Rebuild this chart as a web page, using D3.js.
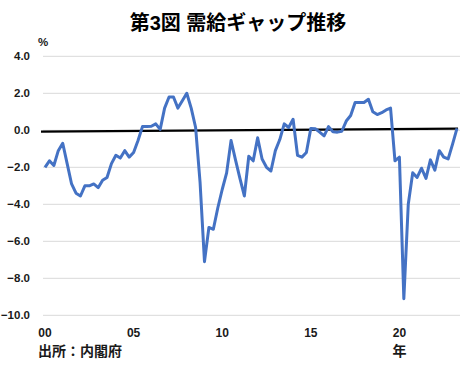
<!DOCTYPE html>
<html>
<head>
<meta charset="utf-8">
<script src="https://cdn.jsdelivr.net/npm/d3@7"></script>
<style>
  body { margin: 0; background: #fff; }
  text { font-family: "Liberation Sans", Arial, "Noto Sans CJK JP", sans-serif; }
</style>
</head>
<body>
<script>
// quarterly output gap, 2000Q1 .. 2023Q2 (% )
const startYear = 2000
const gap = [
  -2.0, -1.65, -1.9, -1.1,   -0.7, -1.8, -2.9, -3.4,
  -3.55, -3.0, -3.0, -2.9,   -3.1, -2.7, -2.55, -1.8,
  -1.35, -1.5, -1.1, -1.45,  -1.2, -0.55, 0.2, 0.2,
  0.22, 0.35, 0.05, 1.2,     1.8, 1.8, 1.2, 1.6,
  2.0, 1.2, 0.15, -2.8,      -7.1, -5.25, -5.35, -4.2,
  -3.2, -2.3, -0.55, -1.6,   -2.6, -3.55, -1.4, -1.65,
  -0.4, -1.55, -2.0, -2.2,   -1.1, -0.5, 0.35, 0.15,
  0.6, -1.35, -1.45, -1.2,   0.1, 0.08, -0.1, -0.3,
  0.2, -0.08, -0.1, -0.05,   0.5, 0.8, 1.5, 1.5,
  1.5, 1.68, 1.0, 0.85,      0.95, 1.1, 1.2, -1.65,
  -1.45, -9.1, -4.0, -2.3,   -2.55, -2.05, -2.6, -1.6,
  -2.15, -1.1, -1.45, -1.55, -0.75, 0.1
]
// the black reference line (start / end)
const refLine = [-0.07, 0.09]

const quarters = gap.map((d, i) => (startYear + Math.floor(i / 4)) + 'Q' + (i % 4 + 1))
const xTickQuarters = ['2000Q1', '2005Q1', '2010Q1', '2015Q1', '2020Q1']
const xTickLabels = ['00', '05', '10', '15', '20']
const yTicks = [4, 2, 0, -2, -4, -6, -8, -10]

const W = 476, H = 365

const svg = d3.select('body').append('svg')
    .attr('width', W)
    .attr('height', H)

//title
svg.append('text')
    .attr('x', 238)
    .attr('y', 30)
    .attr('text-anchor', 'middle')
    .attr('font-size', '20px')
    .attr('font-weight', 'bold')
    .attr('fill', '#000')
    .text('第3図 需給ギャップ推移')

const x = d3.scalePoint()
    .domain(quarters)
    .range([45, 457])

const y = d3.scaleLinear()
    .domain([-10, 4])
    .range([315.3, 56.3])

//gridlines
svg.append('g')
    .selectAll('line')
    .data(yTicks)
    .enter()
    .append('line')
        .attr('x1', 43)
        .attr('x2', 460)
        .attr('y1', d => y(d))
        .attr('y2', d => y(d))
        .attr('stroke', '#d9d9d9')
        .attr('stroke-width', 1)

//y tick labels
svg.append('g')
    .selectAll('text')
    .data(yTicks)
    .enter()
    .append('text')
        .attr('x', 30)
        .attr('y', d => y(d) + 4)
        .attr('text-anchor', 'end')
        .attr('font-size', '11.5px')
        .attr('font-weight', 'bold')
        .attr('fill', '#1a1a1a')
        .text(d => d3.format('.1f')(d))

svg.append('text')
    .attr('x', 43)
    .attr('y', 46)
    .attr('text-anchor', 'middle')
    .attr('font-size', '11.5px')
    .attr('font-weight', 'bold')
    .attr('fill', '#1a1a1a')
    .text('%')

//x tick labels
svg.append('g')
    .selectAll('text')
    .data(xTickQuarters)
    .enter()
    .append('text')
        .attr('x', d => x(d))
        .attr('y', 337)
        .attr('text-anchor', 'middle')
        .attr('font-size', '12px')
        .attr('font-weight', 'bold')
        .attr('fill', '#1a1a1a')
        .text((d, i) => xTickLabels[i])

//reference line
svg.append('line')
    .attr('x1', x(quarters[0]) - 4)
    .attr('x2', x(quarters[quarters.length - 1]) + 1)
    .attr('y1', y(refLine[0]))
    .attr('y2', y(refLine[1]))
    .attr('stroke', '#000')
    .attr('stroke-width', 2.2)

//series
const line = d3.line()
    .x((d, i) => x(quarters[i]))
    .y(d => y(d))

svg.append('path')
    .datum(gap)
    .attr('d', line)
    .attr('fill', 'none')
    .attr('stroke', '#4472C4')
    .attr('stroke-width', 3)
    .attr('stroke-linejoin', 'round')

//notes
svg.append('text')
    .attr('x', 38)
    .attr('y', 356)
    .attr('font-size', '14px')
    .attr('font-weight', 'bold')
    .attr('fill', '#1a1a1a')
    .text('出所：内閣府')

svg.append('text')
    .attr('x', x('2020Q1'))
    .attr('y', 356)
    .attr('text-anchor', 'middle')
    .attr('font-size', '14px')
    .attr('font-weight', 'bold')
    .attr('fill', '#1a1a1a')
    .text('年')
</script>
</body>
</html>
